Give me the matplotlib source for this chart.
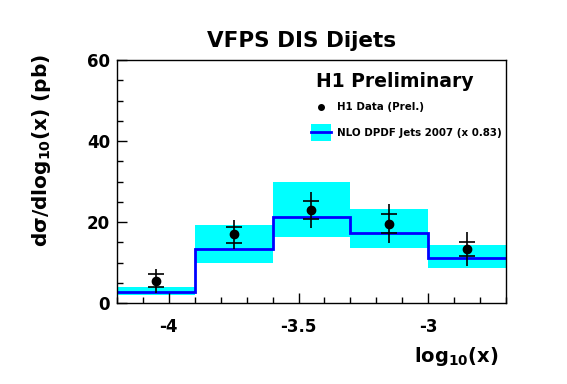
import numpy as np
import matplotlib.pyplot as plt
from matplotlib.ticker import MultipleLocator
from matplotlib.patches import Rectangle

plt.rcParams['font.family'] = ['DejaVu Sans']
plt.rcParams['font.weight'] = 'bold'
plt.rcParams['mathtext.default'] = 'bf'

# ---------------------- Data ----------------------
bin_edges = np.array([-4.2, -3.9, -3.6, -3.3, -3.0, -2.7])
nlo = np.array([2.7, 13.3, 21.2, 17.4, 11.0])
nlo_lo = np.array([1.9, 10.0, 16.2, 13.6, 8.7])
nlo_hi = np.array([3.9, 19.3, 29.9, 23.2, 14.3])

x_data = np.array([-4.05, -3.75, -3.45, -3.15, -2.85])
y_data = np.array([5.5, 17.0, 23.0, 19.6, 13.4])
tot_lo = np.array([2.4, 13.3, 18.6, 14.7, 9.1])
tot_hi = np.array([8.3, 20.5, 27.5, 24.4, 17.5])
stat_lo = np.array([4.0, 14.9, 20.7, 17.4, 11.5])
stat_hi = np.array([7.2, 18.8, 25.3, 22.0, 15.1])

# ---------------------- Figure ----------------------
fig = plt.figure(figsize=(5.67, 3.84), dpi=100)
ax = fig.add_axes([0.2063, 0.2109, 0.6861, 0.6328])

cyan = '#00ffff'
blue = '#0000ff'

# theory band + central histogram
for i in range(len(nlo)):
    ax.fill_between(bin_edges[i:i + 2], nlo_lo[i], nlo_hi[i], color=cyan, lw=0)
ax.stairs(nlo, bin_edges, color=blue, lw=2, baseline=None)

# data with total (line) and stat (tick marks) errors
ax.errorbar(x_data, y_data, yerr=[y_data - tot_lo, tot_hi - y_data],
            fmt='o', color='black', ms=6, elinewidth=1.2, capsize=0)
ax.plot(x_data, stat_lo, ls='none', marker='_', color='black', ms=12, mew=1.2)
ax.plot(x_data, stat_hi, ls='none', marker='_', color='black', ms=12, mew=1.2)

# ---------------------- Axes formatting ----------------------
ax.set_xlim(-4.2, -2.7)
ax.set_ylim(0, 60)
ax.xaxis.set_minor_locator(MultipleLocator(0.1))
ax.yaxis.set_major_locator(MultipleLocator(20))
ax.yaxis.set_minor_locator(MultipleLocator(5))
ax.set_xticks([-4, -3.5, -3])
ax.set_xticklabels(['-4', '-3.5', '-3'])

ax.tick_params(which='both', direction='in', top=False, right=False,
               labelsize=12, width=1)
ax.tick_params(which='major', length=7)
ax.tick_params(which='minor', length=4)
ax.tick_params(axis='x', pad=11)
ax.tick_params(axis='y', pad=5)
for s in ax.spines.values():
    s.set_linewidth(1)

ax.text(0.982, -0.243, r'log$_{10}$(x)', transform=ax.transAxes,
        fontsize=14, fontweight='bold', ha='right', va='baseline')
ax.text(-0.195, 0.63, r'd$\sigma$/dlog$_{10}$(x) (pb)', transform=ax.transAxes,
        fontsize=14.5, fontweight='bold', rotation=90, ha='center', va='center')

fig.text(0.531, 0.8776, 'VFPS DIS Dijets', fontsize=15.5, fontweight='bold',
         ha='center', va='baseline')

# ---------------------- Legend (ROOT style, drawn by hand) ----------------------
ax.text(0.512, 0.889, 'H1 Preliminary', transform=ax.transAxes,
        fontsize=13.5, fontweight='bold', va='baseline')

ax.plot([0.5244], [0.8066], 'o', color='black', ms=4, transform=ax.transAxes,
        clip_on=False)
ax.text(0.5656, 0.7942, 'H1 Data (Prel.)', transform=ax.transAxes,
        fontsize=7.4, fontweight='bold', va='baseline')

ax.add_patch(Rectangle((0.4987, 0.6667), 0.0514, 0.0699, transform=ax.transAxes,
                       facecolor=cyan, edgecolor='none', clip_on=False))
ax.plot([0.4987, 0.5501], [0.7037, 0.7037], color=blue, lw=2,
        transform=ax.transAxes, clip_on=False)
ax.text(0.5656, 0.6872, 'NLO DPDF Jets 2007 (x 0.83)', transform=ax.transAxes,
        fontsize=7.4, fontweight='bold', va='baseline')

plt.savefig('out.png', dpi=100)
